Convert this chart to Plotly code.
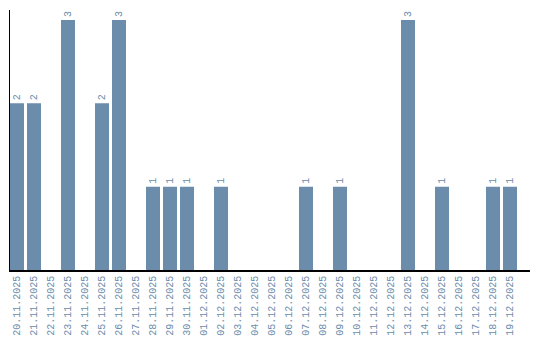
import plotly.graph_objects as go

dates = ["20.11.2025", "21.11.2025", "22.11.2025", "23.11.2025", "24.11.2025",
         "25.11.2025", "26.11.2025", "27.11.2025", "28.11.2025", "29.11.2025",
         "30.11.2025", "01.12.2025", "02.12.2025", "03.12.2025", "04.12.2025",
         "05.12.2025", "06.12.2025", "07.12.2025", "08.12.2025", "09.12.2025",
         "10.12.2025", "11.12.2025", "12.12.2025", "13.12.2025", "14.12.2025",
         "15.12.2025", "16.12.2025", "17.12.2025", "18.12.2025", "19.12.2025"]
counts = [2, 2, 0, 3, 0, 2, 3, 0, 1, 1, 1, 0, 1, 0, 0, 0, 0, 1, 0, 1,
          0, 0, 0, 3, 0, 1, 0, 0, 1, 1]
labels = [str(c) if c else "" for c in counts]

color = "#6b8cab"
font = "Liberation Mono"

fig = go.Figure(go.Bar(
    x=dates, y=counts, text=labels, textposition="outside", textangle=-90,
    textfont=dict(family=font, size=10, color=color),
    marker=dict(color=color, line=dict(width=0)), width=0.8235,
    cliponaxis=False,
))
fig.update_layout(
    width=540, height=340, margin=dict(l=10, r=10, t=10, b=70, autoexpand=False),
    paper_bgcolor="white", plot_bgcolor="white", showlegend=False,
    xaxis=dict(type="category", range=[-0.412, 30.176], showgrid=False,
               automargin=False,
               showline=True, linecolor="black", linewidth=1.5, tickangle=-90,
               ticks="", ticklen=0,
               tickfont=dict(family=font, size=10, color=color)),
    yaxis=dict(range=[0, 3.12], showgrid=False, showline=True, linecolor="black",
               automargin=False,
               linewidth=1, showticklabels=False, ticks="", zeroline=False),
)
fig.write_html("out.html")
